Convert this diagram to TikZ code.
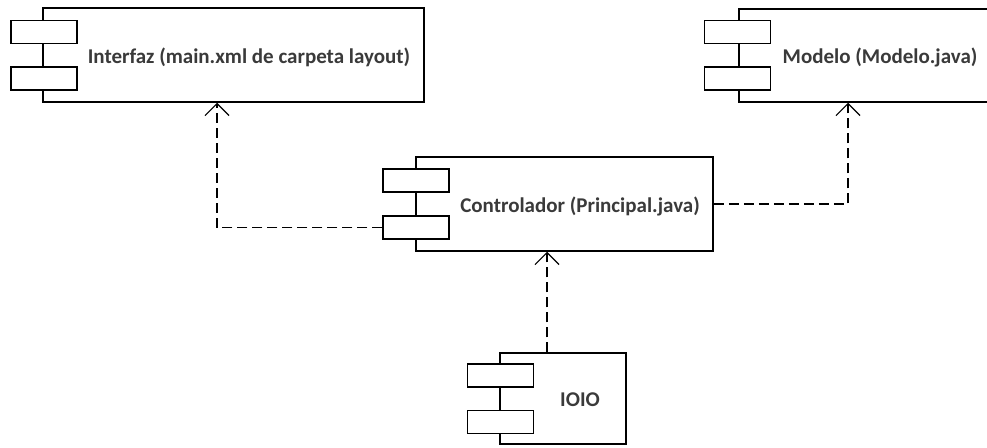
\documentclass[tikz,border=0pt]{standalone}
\usepackage{fontspec}
\setmainfont{Carlito}
\usetikzlibrary{arrows.meta}
\definecolor{txt}{HTML}{3A3A3A}
\tikzset{
  comp/.style={draw=black, fill=white, line width=1.5pt, rectangle, inner sep=0pt},
  port/.style={draw=black, fill=white, line width=1.5pt, rectangle, inner sep=0pt, minimum width=66pt, minimum height=23pt},
  lbl/.style={text=txt, font=\fontsize{21}{24}\selectfont\bfseries, inner sep=0pt},
  dep/.style={draw=black, line width=1.4pt, dash pattern=on 10pt off 5pt, -{Straight Barb[length=12pt, width=24pt, line width=1.2pt]}}
}
\begin{document}
\begin{tikzpicture}[x=1pt, y=-1pt]
\clip (0,0) rectangle (987,447);
\fill[white] (0,0) rectangle (987,447);
% Interfaz
\node[comp, minimum width=381pt, minimum height=94pt] (interfaz) at (233.5,55) {};
\node[port] (interfazA) at (44,32) {};
\node[port] (interfazB) at (44,78.5) {};
\node[lbl] (interfazT) at (249,57) {Interfaz (main.xml de carpeta layout)};
% Modelo
\node[comp, minimum width=252pt, minimum height=93pt] (modelo) at (865,55.5) {};
\node[port] (modeloA) at (737.5,32) {};
\node[port] (modeloB) at (737.5,78.5) {};
\node[lbl] (modeloT) at (880,57) {Modelo (Modelo.java)};
% Controlador
\node[comp, minimum width=297pt, minimum height=94pt] (ctrl) at (564.5,204) {};
\node[port] (ctrlA) at (416,180.5) {};
\node[port] (ctrlB) at (416,227.5) {};
\node[lbl] (ctrlT) at (580,206) {Controlador (Principal.java)};
% IOIO
\node[comp, minimum width=126pt, minimum height=91pt] (ioio) at (563,398.5) {};
\node[port] (ioioA) at (500.5,375.5) {};
\node[port] (ioioB) at (500.5,422) {};
\node[lbl] (ioioT) at (580,400) {IOIO};
% connectors
\draw[dep] (ctrlB.west) -| ([xshift=-16.5pt]interfaz.south);
\draw[dep] (ctrl.east) -| ([xshift=-17pt]modelo.south);
\draw[dep] ([xshift=-16pt]ioio.north) -- ([xshift=-16pt]ioio.north |- ctrl.south);
\end{tikzpicture}
\end{document}
